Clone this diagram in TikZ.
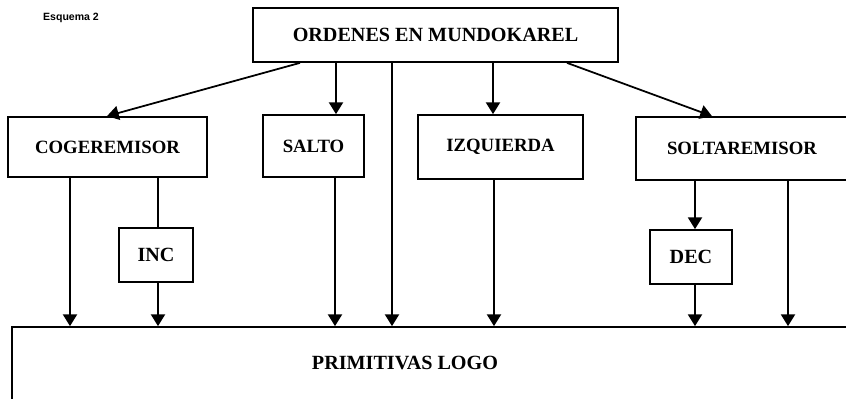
\documentclass[tikz,border=0pt]{standalone}
\usepackage{fontspec}
\setmainfont{Liberation Serif}
\setsansfont{Liberation Sans}
\usetikzlibrary{arrows.meta}

\begin{document}
\begin{tikzpicture}[x=0.03cm,y=-0.03cm,
    caja/.style={draw,line width=1.5pt,font=\bfseries\fontsize{16}{18}\selectfont,inner sep=0pt},
    grande/.style={font=\bfseries\fontsize{17.2}{19}\selectfont},
    flecha/.style={draw,line width=1.5pt,-{Triangle[width=12pt,length=10pt]}},
    linea/.style={draw,line width=1.5pt}]
  \useasboundingbox (0,0) rectangle (846,399);
  \clip (0,0) rectangle (846,399);
  \node[font=\sffamily\bfseries\small] (esq) at (71,18) {Esquema 2};
  \node[caja,grande,minimum width=10.95cm,minimum height=1.62cm] (ord) at (435.5,35) {ORDENES EN MUNDOKAREL};
  \node[caja,minimum width=5.97cm,minimum height=1.8cm] (cog) at (107.5,147) {COGEREMISOR};
  \node[caja,minimum width=3.03cm,minimum height=1.86cm] (salto) at (313.5,146) {SALTO};
  \node[caja,minimum width=4.95cm,minimum height=1.92cm] (izq) at (500.5,147) {IZQUIERDA};
  \node[caja,minimum width=6.36cm,minimum height=1.89cm] (solt) at (742,148.5) {SOLTAREMISOR};
  \node[caja,grande,minimum width=2.22cm,minimum height=1.62cm] (inc) at (156,255) {INC};
  \node[caja,grande,minimum width=2.46cm,minimum height=1.62cm] (dec) at (691,257) {DEC};
  \node[caja,minimum width=25.08cm,minimum height=2.22cm] (prim) at (430,364) {};
  \node[grande] (primtxt) at (405,363) {PRIMITIVAS LOGO};
  % desde ordenes
  \draw[flecha] (ord.south -| 300,0) -- (cog.north -| 107,0);
  \draw[flecha] (ord.south -| 336,0) -- (salto.north -| 336,0);
  \draw[flecha] (ord.south -| 392,0) -- (prim.north -| 392,0);
  \draw[flecha] (ord.south -| 493,0) -- (izq.north -| 493,0);
  \draw[flecha] (ord.south -| 567,0) -- (solt.north -| 712,0);
  % hacia primitivas
  \draw[flecha] (cog.south -| 70,0) -- (prim.north -| 70,0);
  \draw[linea] (cog.south -| 158,0) -- (inc.north -| 158,0);
  \draw[flecha] (inc.south -| 158,0) -- (prim.north -| 158,0);
  \draw[flecha] (salto.south -| 335,0) -- (prim.north -| 335,0);
  \draw[flecha] (izq.south -| 494,0) -- (prim.north -| 494,0);
  \draw[flecha] (solt.south -| 695,0) -- (dec.north -| 695,0);
  \draw[flecha] (dec.south -| 695,0) -- (prim.north -| 695,0);
  \draw[flecha] (solt.south -| 788,0) -- (prim.north -| 788,0);
\end{tikzpicture}
\end{document}
